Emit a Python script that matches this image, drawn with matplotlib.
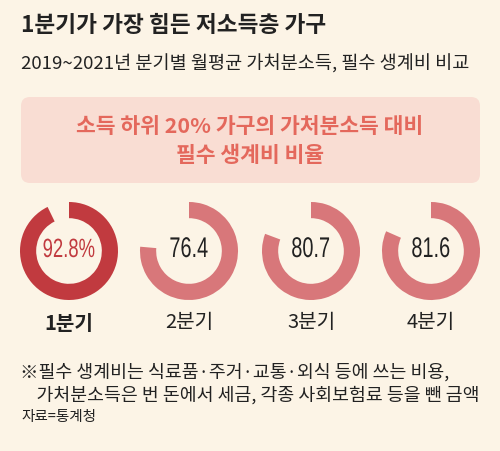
import matplotlib
matplotlib.use('Agg')
import matplotlib.pyplot as plt
from matplotlib.patches import FancyBboxPatch
from matplotlib import patheffects
from matplotlib.transforms import Affine2D

plt.rcParams['font.family'] = ['Noto Sans CJK KR', 'DejaVu Sans']

title = '1분기가 가장 힘든 저소득층 가구'
subtitle = '2019~2021년 분기별 월평균 가처분소득, 필수 생계비 비교'
box_text = '소득 하위 20% 가구의 가처분소득 대비\n필수 생계비 비율'
quarters = ['1분기', '2분기', '3분기', '4분기']
ratios = [92.8, 76.4, 80.7, 81.6]
value_labels = ['92.8%', '76.4', '80.7', '81.6']
notes = ['※필수 생계비는 식료품·주거·교통·외식 등에 쓰는 비용,',
         '    가처분소득은 번 돈에서 세금, 각종 사회보험료 등을 뺀 금액']
source = '자료=통계청'

W, H = 500, 451
bg = '#FCF4E6'
dark_red = '#C13A3F'
light_red = '#D8777A'


class Squeeze(patheffects.AbstractPathEffect):
    # narrow the glyphs horizontally around the text centre (condensed look)
    def __init__(self, sx):
        super().__init__()
        self.sx = sx

    def draw_path(self, renderer, gc, tpath, affine, rgbFace=None):
        pts = affine.transform(tpath.vertices)
        cx = (pts[:, 0].min() + pts[:, 0].max()) / 2
        squeeze = Affine2D().translate(-cx, 0).scale(self.sx, 1).translate(cx, 0)
        renderer.draw_path(gc, tpath, affine + squeeze, rgbFace)


fig = plt.figure(figsize=(W / 100, H / 100), dpi=100, facecolor=bg)
ax = fig.add_axes([0, 0, 1, 1])
ax.set_xlim(0, W)
ax.set_ylim(H, 0)
ax.axis('off')

ax.text(21, 26, title, fontsize=16.3, fontweight='bold', color='#222222',
        va='center', ha='left')
ax.text(21, 64, subtitle, fontsize=13.4, color='#222222', va='center', ha='left')

box = FancyBboxPatch((21, 97), 459, 86, boxstyle='round,pad=0,rounding_size=9',
                     facecolor='#F9DDD3', edgecolor='none')
ax.add_patch(box)
ax.text(250, 141, box_text, fontsize=15.5, fontweight='bold', color='#E4685C',
        ha='center', va='center', linespacing=1.45)

centers = [69, 189, 311, 431]
cy = 251
R = 49
for i, (q, v, lab) in enumerate(zip(quarters, ratios, value_labels)):
    cx = centers[i]
    col = dark_red if i == 0 else light_red
    dax = fig.add_axes([(cx - R) / W, 1 - (cy + R) / H, 2 * R / W, 2 * R / H])
    dax.pie([v, 100 - v], startangle=90, counterclock=False,
            colors=[col, 'none'], radius=1,
            wedgeprops=dict(width=0.33, edgecolor='none'))
    dax.set_aspect('equal')
    dax.set_xlim(-1, 1)
    dax.set_ylim(-1, 1)
    dax.axis('off')
    ax.text(cx, cy - 1, lab, fontsize=19 if i == 0 else 20.5,
            family=['Liberation Sans', 'DejaVu Sans'],
            color=dark_red if i == 0 else '#222222', ha='center', va='center',
            path_effects=[Squeeze(0.7)])
    ax.text(cx, 323, q, fontsize=14.5, fontweight='bold' if i == 0 else 'normal',
            color='#222222', ha='center', va='center')

ax.text(20, 372, notes[0], fontsize=13.2, color='#222222', va='center', ha='left')
ax.text(20, 395, notes[1], fontsize=13.2, color='#222222', va='center', ha='left')
ax.text(21, 417, source, fontsize=10.5, color='#222222', va='center', ha='left')

fig.savefig('out.png', dpi=100, facecolor=bg)
